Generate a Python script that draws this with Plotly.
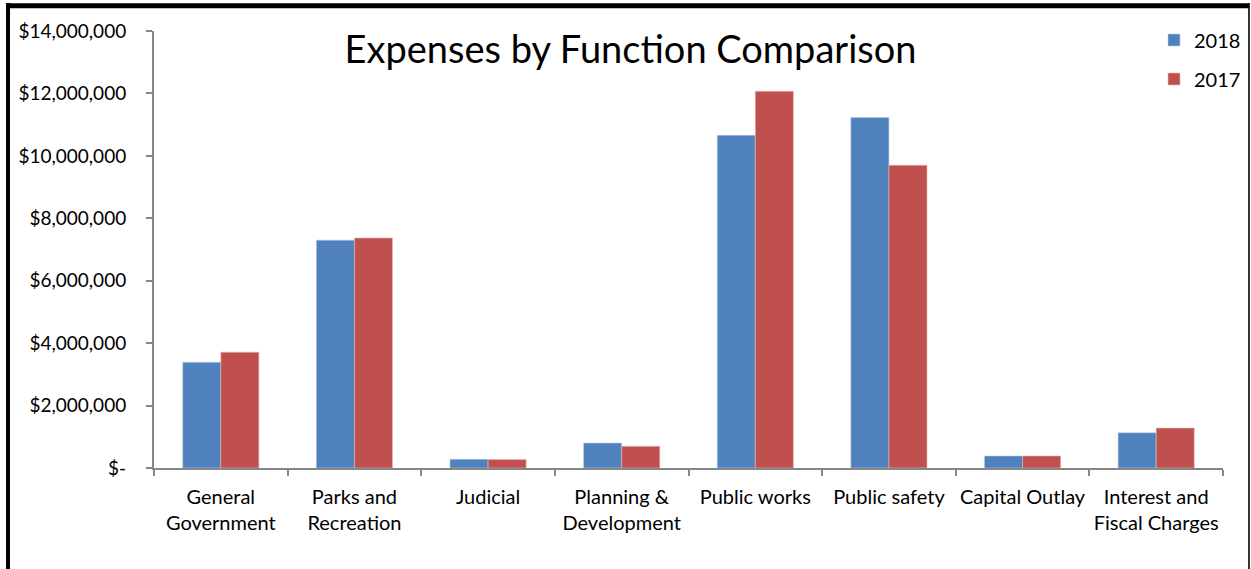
import plotly.graph_objects as go

categories = ["General<br>Government", "Parks and<br>Recreation", "Judicial",
              "Planning &<br>Development", "Public works", "Public safety",
              "Capital Outlay", "Interest and<br>Fiscal Charges"]
values_2018 = [3386000, 7300000, 280000, 800000, 10660000, 11230000, 385000, 1130000]
values_2017 = [3710000, 7370000, 270000, 695000, 12070000, 9700000, 385000, 1280000]
y_tickvals = [0, 2000000, 4000000, 6000000, 8000000, 10000000, 12000000, 14000000]
y_ticktext = ["$-", "$2,000,000", "$4,000,000", "$6,000,000", "$8,000,000",
              "$10,000,000", "$12,000,000", "$14,000,000"]

FONT = "Lato"
W, H = 1251, 569
L, R, T, B = 154, 28, 31, 101
PW, PH = W - L - R, H - T - B


def px(x):
    return (x - L) / PW


def py(y):
    return (H - B - y) / PH


fig = go.Figure()
fig.add_trace(go.Bar(x=categories, y=values_2018, name="2018", legend="legend",
                     marker=dict(color="#4F81BD", line=dict(color="#B9CDE5", width=0.6))))
fig.add_trace(go.Bar(x=categories, y=values_2017, name="2017", legend="legend2",
                     marker=dict(color="#C0504D", line=dict(color="#E6B9B8", width=0.6))))

legend_style = dict(xanchor="left", yanchor="middle", font=dict(family=FONT, size=20, color="#000000"),
                    itemwidth=30, bgcolor="rgba(0,0,0,0)", borderwidth=0)

fig.update_layout(
    width=W, height=H,
    margin=dict(l=L, r=R, t=T, b=B, autoexpand=False),
    paper_bgcolor="white", plot_bgcolor="white",
    barmode="group", bargap=0.43, bargroupgap=0,
    font=dict(family=FONT, size=20, color="#000000"),
    title=dict(text="Expenses by Function Comparison", x=0.504, xanchor="center",
               y=1 - 50 / H, yanchor="middle",
               font=dict(family=FONT, size=38, color="#000000")),
    legend=dict(x=px(1154), y=py(40), **legend_style),
    legend2=dict(x=px(1154), y=py(79), **legend_style),
    showlegend=True,
)
fig.update_xaxes(showline=True, linecolor="#868686", linewidth=2,
                 ticks="outside", tickson="boundaries", ticklen=6, tickcolor="#868686",
                 tickwidth=2, showgrid=False, tickfont=dict(family=FONT, size=20),
                 tickangle=0, automargin=False,
                 ticklabelstandoff=10, fixedrange=True)
fig.update_yaxes(range=[0, 14000000], tickvals=y_tickvals, ticktext=y_ticktext,
                 showline=True, linecolor="#868686", linewidth=2,
                 ticks="outside", ticklen=6, tickcolor="#868686", tickwidth=2,
                 showgrid=False, zeroline=False, tickfont=dict(family=FONT, size=19),
                 automargin=False,
                 ticklabelstandoff=16, fixedrange=True)

# Outer frame of the chart image
fig.add_shape(type="line", xref="paper", yref="paper", x0=px(8), x1=px(8), y0=py(3), y1=py(H + 5),
              line=dict(color="black", width=4))
fig.add_shape(type="line", xref="paper", yref="paper", x0=px(6), x1=px(1249), y0=py(5.8), y1=py(5.8),
              line=dict(color="black", width=5))
fig.add_shape(type="line", xref="paper", yref="paper", x0=px(1249), x1=px(1249), y0=py(3), y1=py(H + 5),
              line=dict(color="black", width=1.6))

fig.write_html("out.html", config={"displayModeBar": False},
               post_script="document.body.style.margin='0';document.body.style.overflow='hidden';")
